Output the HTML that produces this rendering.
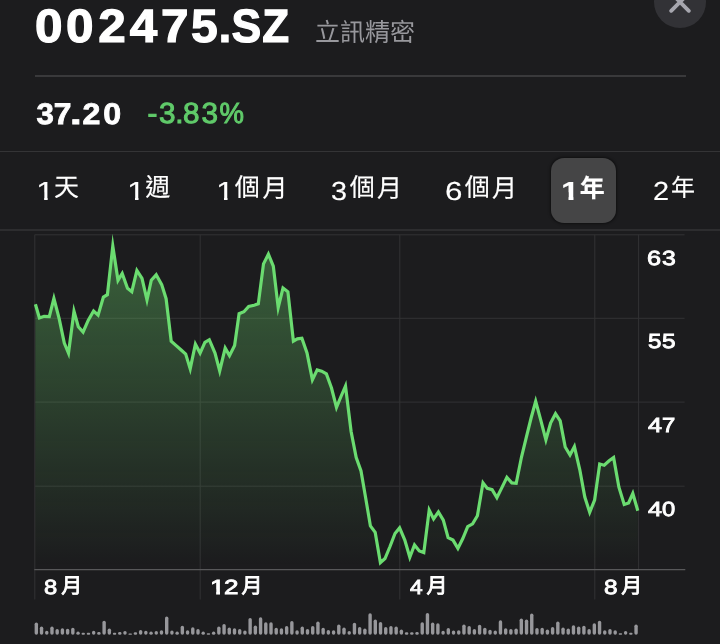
<!DOCTYPE html>
<html lang="zh-Hant">
<head>
<meta charset="utf-8">
<title>002475.SZ</title>
<style>
html,body{margin:0;padding:0}
body{width:720px;height:644px;background:#1c1c1e;overflow:hidden;position:relative;
  font-family:"Liberation Sans","Noto Sans CJK TC",sans-serif;color:#fff;text-rendering:geometricPrecision}
#app{position:absolute;left:0;top:0;width:720px;height:644px;overflow:hidden;will-change:transform}
.abs{position:absolute;white-space:nowrap;line-height:1}
.hr{position:absolute;height:1.5px;background:#38383a}
.tab{position:absolute;top:0;padding-top:178.0px;white-space:nowrap;font-size:26.0px;line-height:1;-webkit-text-stroke:0.15px #fff}
.tab.sel{font-weight:bold}
.ylab{position:absolute;left:640px;font-size:20.4px;line-height:1;white-space:nowrap;-webkit-text-stroke:0.85px #fff}
.xlab{position:absolute;top:0;padding-top:578.1px;font-size:20.4px;line-height:1;white-space:nowrap;-webkit-text-stroke:0.85px #fff}
.cj{position:absolute;line-height:1;white-space:nowrap;font-family:"Liberation Sans","Noto Sans CJK TC",sans-serif}
</style>
</head>
<body>
<div id="app">

<!-- header -->
<div class="abs" id="ticker" style="left:30px;top:3.2px;font-size:46.7px;font-weight:bold;-webkit-text-stroke:1.2px #fff;transform:scale(1.06,1);transform-origin:0 0"><span style="margin-left:4.62px">0</span><span style="margin-left:3.51px">0</span><span style="margin-left:4.44px">2</span><span style="margin-left:3.71px">4</span><span style="margin-left:3.39px">7</span><span style="margin-left:2.94px;display:inline-block;transform:scaleX(0.970);transform-origin:0 50%">5</span><span style="margin-left:-0.17px;display:inline-block;transform:scaleX(0.902);transform-origin:0 50%">.</span><span style="margin-left:-1.61px;display:inline-block;transform:scaleX(0.900);transform-origin:0 50%">S</span><span style="margin-left:-1.65px;display:inline-block;transform:scaleX(0.889);transform-origin:0 50%">Z</span></div>
<div class="abs" id="cname" style="left:314.9px;top:21.3px;color:#98989d;font-size:25px;font-family:'Liberation Sans','Noto Sans CJK TC',sans-serif">立訊精密</div>
<div id="close" class="abs" style="left:654px;top:-24.2px;width:52px;height:52px;border-radius:50%;background:#323236">
<svg width="52" height="52" viewBox="0 0 52 52" style="position:absolute;left:0;top:0"><path d="M17.2 17.2 L34.8 34.8 M34.8 17.2 L17.2 34.8" stroke="#a6a6ae" stroke-width="3.8" stroke-linecap="round" fill="none"/></svg>
</div>
<div class="hr" style="left:35px;width:650.5px;top:74.8px;height:2px;background:#39393b"></div>

<!-- price -->
<div class="abs" id="price" style="left:30px;top:99.6px;font-size:29.8px;font-weight:bold;-webkit-text-stroke:0.8px #fff;transform:scale(1.08,1);transform-origin:0 0"><span style="margin-left:5.54px;display:inline-block;transform:scaleX(0.969);transform-origin:0 50%">3</span><span style="margin-left:-0.51px;display:inline-block;transform:scaleX(0.987);transform-origin:0 50%">7</span><span style="margin-left:-1.09px;display:inline-block;transform:scaleX(1.299);transform-origin:0 50%">.</span><span style="margin-left:3.32px">2</span><span style="margin-left:2.63px">0</span></div>
<div class="abs" id="chg" style="left:140px;top:100.0px;font-size:29.1px;color:#60ca6a;-webkit-text-stroke:1.0px #60ca6a;transform:scale(1.02,1);transform-origin:0 0"><span style="margin-left:7.24px">-</span><span style="margin-left:1.77px">3</span><span style="margin-left:-0.28px">.</span><span style="margin-left:-0.61px">8</span><span style="margin-left:2.11px">3</span><span style="margin-left:1.12px;display:inline-block;transform:scaleX(0.927);transform-origin:0 50%">%</span></div>
<div class="hr" style="left:0;width:720px;top:150.7px;height:1.6px;background:#343436"></div>

<!-- range tabs -->
<div class="abs" style="left:551.2px;top:158.3px;width:64.6px;height:64.4px;border-radius:13px;background:#454546;box-shadow:0 0 2.5px 0.5px rgba(0,0,0,0.45)"></div>
<div class="tabs">
<div class="tab" style="left:30px"><span style="margin-left:6.06px;display:inline-block;transform:scaleX(1.287);transform-origin:0 50%;clip-path:polygon(0 0,0.349em 0,0.349em 1.1em,0.243em 1.1em,0.243em 0.55em,0 0.55em)">1</span><span class="cj" style="left:24.1px;top:176.4px;font-size:25px">天</span></div>
<div class="tab" style="left:120px"><span style="margin-left:6.90px;display:inline-block;transform:scaleX(1.271);transform-origin:0 50%;clip-path:polygon(0 0,0.349em 0,0.349em 1.1em,0.243em 1.1em,0.243em 0.55em,0 0.55em)">1</span><span class="cj" style="left:25.2px;top:176.4px;font-size:25px">週</span></div>
<div class="tab" style="left:210px"><span style="margin-left:6.10px;display:inline-block;transform:scaleX(1.271);transform-origin:0 50%;clip-path:polygon(0 0,0.349em 0,0.349em 1.1em,0.243em 1.1em,0.243em 0.55em,0 0.55em)">1</span><span class="cj" style="left:24.7px;top:176.4px;font-size:25px">個</span><span class="cj" style="left:52.4px;top:176.5px;font-size:25px">月</span></div>
<div class="tab" style="left:320px"><span style="margin-left:10.98px;display:inline-block;transform:scaleX(1.107);transform-origin:0 50%">3</span><span class="cj" style="left:29.7px;top:176.4px;font-size:25px">個</span><span class="cj" style="left:56.9px;top:176.5px;font-size:25px">月</span></div>
<div class="tab" style="left:435px"><span style="margin-left:10.18px;display:inline-block;transform:scaleX(1.204);transform-origin:0 50%">6</span><span class="cj" style="left:29.7px;top:176.4px;font-size:25px">個</span><span class="cj" style="left:56.9px;top:176.5px;font-size:25px">月</span></div>
<div class="tab sel" style="left:555px"><span style="margin-left:6.00px;display:inline-block;transform:scaleX(1.279);transform-origin:0 50%;clip-path:polygon(0 0,0.379em 0,0.379em 1.1em,0.225em 1.1em,0.225em 0.55em,0 0.55em)">1</span><span class="cj" style="left:24.7px;top:176.5px;font-size:25px">年</span></div>
<div class="tab" style="left:645px"><span style="margin-left:7.52px;display:inline-block;transform:scaleX(1.110);transform-origin:0 50%">2</span><span class="cj" style="left:26.0px;top:177.3px;font-size:24px">年</span></div>
</div>
<div class="hr" style="left:0;width:720px;top:228.8px;height:2px;background:#2d2d2f"></div>

<!-- chart -->
<svg id="chart" class="abs" style="left:0;top:0" width="720" height="644" viewBox="0 0 720 644">
<defs>
<linearGradient id="fill" gradientUnits="userSpaceOnUse" x1="0" y1="235" x2="0" y2="566">
<stop offset="0" stop-color="#6dd86f" stop-opacity="0.378"/>
<stop offset="1" stop-color="#6dd86f" stop-opacity="0.0"/>
</linearGradient>
</defs>
<g stroke="#323234" stroke-width="1" fill="none">
<path d="M35 234.8H684.6 M35 318.3H684.6 M35 402.1H684.6 M35 486.2H684.6"/>
<path d="M34.8 234.5V599.5 M200.2 234.5V599.5 M399.8 234.5V599.5 M594.8 234.5V599.5 M638.6 234.5V569.5"/>
</g>
<path d="M34.3 569.6H685.3" stroke="#58585a" stroke-width="1.2" fill="none"/>
<path d="M35.4 304.3 L39.4 318.0 L44.1 316.3 L49.3 316.6 L53.9 298.4 L59.1 318.3 L64.3 343.0 L68.5 353.2 L74.0 311.3 L78.3 326.7 L83.1 332.0 L88.3 320.2 L93.6 311.0 L98.1 315.1 L103.4 297.1 L107.4 294.7 L112.8 246.1 L118.0 280.3 L122.2 273.4 L127.5 288.3 L131.8 291.7 L136.9 270.4 L142.0 278.3 L147.0 300.0 L151.3 280.2 L156.2 274.8 L161.7 284.6 L166.1 298.7 L171.2 341.1 L175.9 345.4 L180.9 349.8 L185.7 354.1 L190.2 368.9 L195.4 344.2 L200.1 353.1 L204.9 342.3 L209.3 339.7 L215.0 353.0 L219.7 370.9 L225.2 348.1 L229.5 355.6 L234.6 345.4 L239.1 313.7 L243.9 311.7 L248.7 306.4 L254.1 305.2 L258.3 303.9 L263.5 263.9 L268.4 254.2 L273.3 266.1 L278.2 307.6 L283.0 288.0 L287.9 291.8 L293.4 341.1 L297.4 338.9 L301.9 338.2 L307.0 353.0 L312.4 379.7 L317.2 369.9 L321.7 371.2 L326.4 373.9 L331.5 388.0 L336.5 407.4 L341.2 396.0 L345.5 386.0 L351.1 431.5 L356.2 457.5 L361.0 471.0 L365.5 497.0 L370.4 525.9 L375.2 532.4 L380.4 562.7 L385.0 558.5 L390.0 546.5 L395.0 533.5 L399.6 527.9 L404.8 540.0 L409.8 557.3 L414.5 544.9 L419.3 550.9 L423.8 552.6 L429.2 510.1 L433.6 518.9 L438.4 512.0 L443.3 520.2 L448.1 537.7 L453.0 540.1 L457.9 548.4 L462.8 538.5 L467.7 526.6 L472.6 523.9 L477.4 515.7 L483.0 482.8 L487.3 488.4 L492.1 489.7 L496.9 497.6 L502.0 487.4 L506.9 477.4 L511.8 482.9 L516.2 483.3 L521.5 457.0 L526.3 437.4 L531.1 418.0 L535.7 401.4 L540.7 419.8 L545.9 439.8 L550.6 423.0 L555.5 413.7 L560.2 420.9 L565.2 447.0 L570.0 455.0 L574.4 446.6 L579.8 469.8 L584.8 497.0 L589.7 512.3 L594.6 500.2 L599.7 464.0 L604.2 465.2 L609.1 460.7 L613.6 457.6 L618.9 487.2 L624.2 504.4 L628.6 502.9 L632.8 493.5 L637.8 510.7 L637.8 569.5 L35.4 569.5 Z" fill="url(#fill)"/>
<path d="M35.4 304.3 L39.4 318.0 L44.1 316.3 L49.3 316.6 L53.9 298.4 L59.1 318.3 L64.3 343.0 L68.5 353.2 L74.0 311.3 L78.3 326.7 L83.1 332.0 L88.3 320.2 L93.6 311.0 L98.1 315.1 L103.4 297.1 L107.4 294.7 L112.8 246.1 L118.0 280.3 L122.2 273.4 L127.5 288.3 L131.8 291.7 L136.9 270.4 L142.0 278.3 L147.0 300.0 L151.3 280.2 L156.2 274.8 L161.7 284.6 L166.1 298.7 L171.2 341.1 L175.9 345.4 L180.9 349.8 L185.7 354.1 L190.2 368.9 L195.4 344.2 L200.1 353.1 L204.9 342.3 L209.3 339.7 L215.0 353.0 L219.7 370.9 L225.2 348.1 L229.5 355.6 L234.6 345.4 L239.1 313.7 L243.9 311.7 L248.7 306.4 L254.1 305.2 L258.3 303.9 L263.5 263.9 L268.4 254.2 L273.3 266.1 L278.2 307.6 L283.0 288.0 L287.9 291.8 L293.4 341.1 L297.4 338.9 L301.9 338.2 L307.0 353.0 L312.4 379.7 L317.2 369.9 L321.7 371.2 L326.4 373.9 L331.5 388.0 L336.5 407.4 L341.2 396.0 L345.5 386.0 L351.1 431.5 L356.2 457.5 L361.0 471.0 L365.5 497.0 L370.4 525.9 L375.2 532.4 L380.4 562.7 L385.0 558.5 L390.0 546.5 L395.0 533.5 L399.6 527.9 L404.8 540.0 L409.8 557.3 L414.5 544.9 L419.3 550.9 L423.8 552.6 L429.2 510.1 L433.6 518.9 L438.4 512.0 L443.3 520.2 L448.1 537.7 L453.0 540.1 L457.9 548.4 L462.8 538.5 L467.7 526.6 L472.6 523.9 L477.4 515.7 L483.0 482.8 L487.3 488.4 L492.1 489.7 L496.9 497.6 L502.0 487.4 L506.9 477.4 L511.8 482.9 L516.2 483.3 L521.5 457.0 L526.3 437.4 L531.1 418.0 L535.7 401.4 L540.7 419.8 L545.9 439.8 L550.6 423.0 L555.5 413.7 L560.2 420.9 L565.2 447.0 L570.0 455.0 L574.4 446.6 L579.8 469.8 L584.8 497.0 L589.7 512.3 L594.6 500.2 L599.7 464.0 L604.2 465.2 L609.1 460.7 L613.6 457.6 L618.9 487.2 L624.2 504.4 L628.6 502.9 L632.8 493.5 L637.8 510.7" fill="none" stroke="#6bdc70" stroke-width="3.2" stroke-linejoin="miter" stroke-miterlimit="16" stroke-linecap="butt"/>
</svg>

<!-- y labels -->
<div class="ylab" style="top:248.6px"><span style="margin-left:7.04px;display:inline-block;transform:scaleX(1.238);transform-origin:0 50%">6</span><span style="margin-left:3.49px;display:inline-block;transform:scaleX(1.215);transform-origin:0 50%">3</span></div>
<div class="ylab" style="top:332.1px"><span style="margin-left:7.76px;display:inline-block;transform:scaleX(1.184);transform-origin:0 50%">5</span><span style="margin-left:2.95px;display:inline-block;transform:scaleX(1.194);transform-origin:0 50%">5</span></div>
<div class="ylab" style="top:415.6px"><span style="margin-left:7.75px;display:inline-block;transform:scaleX(1.231);transform-origin:0 50%">4</span><span style="margin-left:2.91px;display:inline-block;transform:scaleX(1.170);transform-origin:0 50%">7</span></div>
<div class="ylab" style="top:499.7px"><span style="margin-left:7.75px;display:inline-block;transform:scaleX(1.231);transform-origin:0 50%">4</span><span style="margin-left:3.20px;display:inline-block;transform:scaleX(1.164);transform-origin:0 50%">0</span></div>

<!-- x labels -->
<div class="xlab" style="left:40px"><span style="margin-left:4.09px;display:inline-block;transform:scaleX(1.165);transform-origin:0 50%">8</span><span class="cj" style="left:21.3px;top:575.6px;font-size:21px">月</span></div>
<div class="xlab" style="left:205px"><span style="margin-left:5.30px;display:inline-block;transform:scaleX(1.338);transform-origin:0 50%;clip-path:polygon(0 0,0.367em 0,0.367em 1.1em,0.225em 1.1em,0.225em 0.55em,0 0.55em)">1</span><span style="margin-left:1.97px;display:inline-block;transform:scaleX(1.275);transform-origin:0 50%">2</span><span class="cj" style="left:36.6px;top:575.6px;font-size:21px">月</span></div>
<div class="xlab" style="left:405px"><span style="margin-left:4.60px;display:inline-block;transform:scaleX(1.114);transform-origin:0 50%">4</span><span class="cj" style="left:21.6px;top:575.6px;font-size:21px">月</span></div>
<div class="xlab" style="left:600px"><span style="margin-left:4.06px;display:inline-block;transform:scaleX(1.196);transform-origin:0 50%">8</span><span class="cj" style="left:21.3px;top:575.6px;font-size:21px">月</span></div>

<!-- volume -->
<svg id="vol" class="abs" style="left:0;top:0" width="720" height="644" viewBox="0 0 720 644">
<g fill="#97979b"><rect x="34.63" y="622.50" width="3.4" height="12.30" rx="1.70"/><rect x="39.84" y="626.50" width="3.4" height="8.30" rx="1.70"/><rect x="45.06" y="630.80" width="3.4" height="4.00" rx="1.70"/><rect x="50.27" y="626.50" width="3.4" height="8.30" rx="1.70"/><rect x="55.49" y="629.10" width="3.4" height="5.70" rx="1.70"/><rect x="60.70" y="628.30" width="3.4" height="6.50" rx="1.70"/><rect x="65.92" y="628.80" width="3.4" height="6.00" rx="1.70"/><rect x="71.13" y="627.80" width="3.4" height="7.00" rx="1.70"/><rect x="76.35" y="631.50" width="3.4" height="3.30" rx="1.65"/><rect x="81.56" y="632.80" width="3.4" height="2.00" rx="1.00"/><rect x="86.78" y="632.80" width="3.4" height="2.00" rx="1.00"/><rect x="91.99" y="630.80" width="3.4" height="4.00" rx="1.70"/><rect x="97.21" y="632.00" width="3.4" height="2.80" rx="1.40"/><rect x="102.42" y="620.80" width="3.4" height="14.00" rx="1.70"/><rect x="107.64" y="628.60" width="3.4" height="6.20" rx="1.70"/><rect x="112.85" y="632.80" width="3.4" height="2.00" rx="1.00"/><rect x="118.07" y="632.00" width="3.4" height="2.80" rx="1.40"/><rect x="123.28" y="631.10" width="3.4" height="3.70" rx="1.70"/><rect x="128.50" y="633.60" width="3.4" height="1.20" rx="0.60"/><rect x="133.72" y="632.30" width="3.4" height="2.50" rx="1.25"/><rect x="138.93" y="630.00" width="3.4" height="4.80" rx="1.70"/><rect x="144.15" y="630.80" width="3.4" height="4.00" rx="1.70"/><rect x="149.36" y="631.50" width="3.4" height="3.30" rx="1.65"/><rect x="154.57" y="631.10" width="3.4" height="3.70" rx="1.70"/><rect x="159.79" y="630.30" width="3.4" height="4.50" rx="1.70"/><rect x="165.00" y="616.50" width="3.4" height="18.30" rx="1.70"/><rect x="170.22" y="630.60" width="3.4" height="4.20" rx="1.70"/><rect x="175.44" y="631.50" width="3.4" height="3.30" rx="1.65"/><rect x="180.65" y="625.80" width="3.4" height="9.00" rx="1.70"/><rect x="185.87" y="630.30" width="3.4" height="4.50" rx="1.70"/><rect x="191.08" y="627.30" width="3.4" height="7.50" rx="1.70"/><rect x="196.30" y="629.10" width="3.4" height="5.70" rx="1.70"/><rect x="201.51" y="631.50" width="3.4" height="3.30" rx="1.65"/><rect x="206.73" y="633.30" width="3.4" height="1.50" rx="0.75"/><rect x="211.94" y="631.50" width="3.4" height="3.30" rx="1.65"/><rect x="217.16" y="626.50" width="3.4" height="8.30" rx="1.70"/><rect x="222.37" y="624.10" width="3.4" height="10.70" rx="1.70"/><rect x="227.58" y="627.50" width="3.4" height="7.30" rx="1.70"/><rect x="232.80" y="628.30" width="3.4" height="6.50" rx="1.70"/><rect x="238.01" y="629.10" width="3.4" height="5.70" rx="1.70"/><rect x="243.23" y="630.60" width="3.4" height="4.20" rx="1.70"/><rect x="248.44" y="618.10" width="3.4" height="16.70" rx="1.70"/><rect x="253.66" y="625.60" width="3.4" height="9.20" rx="1.70"/><rect x="258.88" y="617.30" width="3.4" height="17.50" rx="1.70"/><rect x="264.09" y="622.30" width="3.4" height="12.50" rx="1.70"/><rect x="269.31" y="622.30" width="3.4" height="12.50" rx="1.70"/><rect x="274.52" y="627.80" width="3.4" height="7.00" rx="1.70"/><rect x="279.74" y="628.30" width="3.4" height="6.50" rx="1.70"/><rect x="284.95" y="626.10" width="3.4" height="8.70" rx="1.70"/><rect x="290.17" y="621.10" width="3.4" height="13.70" rx="1.70"/><rect x="295.38" y="630.30" width="3.4" height="4.50" rx="1.70"/><rect x="300.59" y="626.50" width="3.4" height="8.30" rx="1.70"/><rect x="305.81" y="629.10" width="3.4" height="5.70" rx="1.70"/><rect x="311.02" y="626.10" width="3.4" height="8.70" rx="1.70"/><rect x="316.24" y="621.50" width="3.4" height="13.30" rx="1.70"/><rect x="321.45" y="627.80" width="3.4" height="7.00" rx="1.70"/><rect x="326.67" y="630.00" width="3.4" height="4.80" rx="1.70"/><rect x="331.88" y="630.30" width="3.4" height="4.50" rx="1.70"/><rect x="337.10" y="624.50" width="3.4" height="10.30" rx="1.70"/><rect x="342.31" y="627.50" width="3.4" height="7.30" rx="1.70"/><rect x="347.53" y="631.10" width="3.4" height="3.70" rx="1.70"/><rect x="352.75" y="622.80" width="3.4" height="12.00" rx="1.70"/><rect x="357.96" y="627.00" width="3.4" height="7.80" rx="1.70"/><rect x="363.18" y="628.60" width="3.4" height="6.20" rx="1.70"/><rect x="368.39" y="613.30" width="3.4" height="21.50" rx="1.70"/><rect x="373.60" y="619.50" width="3.4" height="15.30" rx="1.70"/><rect x="378.82" y="622.00" width="3.4" height="12.80" rx="1.70"/><rect x="384.03" y="627.00" width="3.4" height="7.80" rx="1.70"/><rect x="389.25" y="626.10" width="3.4" height="8.70" rx="1.70"/><rect x="394.46" y="626.50" width="3.4" height="8.30" rx="1.70"/><rect x="399.68" y="629.50" width="3.4" height="5.30" rx="1.70"/><rect x="404.89" y="632.30" width="3.4" height="2.50" rx="1.25"/><rect x="410.11" y="632.30" width="3.4" height="2.50" rx="1.25"/><rect x="415.32" y="632.00" width="3.4" height="2.80" rx="1.40"/><rect x="420.54" y="622.30" width="3.4" height="12.50" rx="1.70"/><rect x="425.75" y="613.10" width="3.4" height="21.70" rx="1.70"/><rect x="430.97" y="622.50" width="3.4" height="12.30" rx="1.70"/><rect x="436.19" y="623.30" width="3.4" height="11.50" rx="1.70"/><rect x="441.40" y="630.80" width="3.4" height="4.00" rx="1.70"/><rect x="446.62" y="628.10" width="3.4" height="6.70" rx="1.70"/><rect x="451.83" y="630.60" width="3.4" height="4.20" rx="1.70"/><rect x="457.04" y="630.30" width="3.4" height="4.50" rx="1.70"/><rect x="462.26" y="624.50" width="3.4" height="10.30" rx="1.70"/><rect x="467.47" y="626.10" width="3.4" height="8.70" rx="1.70"/><rect x="472.69" y="629.10" width="3.4" height="5.70" rx="1.70"/><rect x="477.90" y="624.80" width="3.4" height="10.00" rx="1.70"/><rect x="483.12" y="627.80" width="3.4" height="7.00" rx="1.70"/><rect x="488.33" y="629.80" width="3.4" height="5.00" rx="1.70"/><rect x="493.55" y="630.60" width="3.4" height="4.20" rx="1.70"/><rect x="498.76" y="620.30" width="3.4" height="14.50" rx="1.70"/><rect x="503.98" y="628.30" width="3.4" height="6.50" rx="1.70"/><rect x="509.19" y="629.00" width="3.4" height="5.80" rx="1.70"/><rect x="514.41" y="628.60" width="3.4" height="6.20" rx="1.70"/><rect x="519.62" y="618.60" width="3.4" height="16.20" rx="1.70"/><rect x="524.84" y="619.50" width="3.4" height="15.30" rx="1.70"/><rect x="530.05" y="613.60" width="3.4" height="21.20" rx="1.70"/><rect x="535.27" y="628.10" width="3.4" height="6.70" rx="1.70"/><rect x="540.48" y="627.80" width="3.4" height="7.00" rx="1.70"/><rect x="545.70" y="629.50" width="3.4" height="5.30" rx="1.70"/><rect x="550.91" y="627.00" width="3.4" height="7.80" rx="1.70"/><rect x="556.13" y="621.60" width="3.4" height="13.20" rx="1.70"/><rect x="561.35" y="627.50" width="3.4" height="7.30" rx="1.70"/><rect x="566.56" y="628.60" width="3.4" height="6.20" rx="1.70"/><rect x="571.77" y="625.30" width="3.4" height="9.50" rx="1.70"/><rect x="576.99" y="626.50" width="3.4" height="8.30" rx="1.70"/><rect x="582.20" y="625.70" width="3.4" height="9.10" rx="1.70"/><rect x="587.42" y="629.00" width="3.4" height="5.80" rx="1.70"/><rect x="592.63" y="623.30" width="3.4" height="11.50" rx="1.70"/><rect x="597.85" y="620.80" width="3.4" height="14.00" rx="1.70"/><rect x="603.06" y="630.30" width="3.4" height="4.50" rx="1.70"/><rect x="608.28" y="629.00" width="3.4" height="5.80" rx="1.70"/><rect x="613.50" y="630.30" width="3.4" height="4.50" rx="1.70"/><rect x="618.71" y="633.30" width="3.4" height="1.50" rx="0.75"/><rect x="623.92" y="631.10" width="3.4" height="3.70" rx="1.70"/><rect x="629.14" y="632.80" width="3.4" height="2.00" rx="1.00"/><rect x="634.36" y="624.50" width="3.4" height="10.30" rx="1.70"/></g>
</svg>
</div>
</body>
</html>
